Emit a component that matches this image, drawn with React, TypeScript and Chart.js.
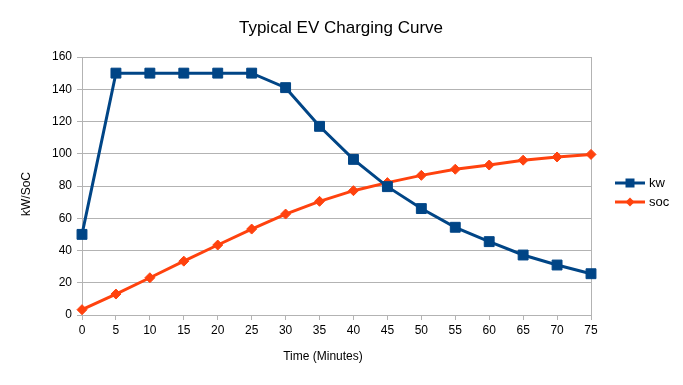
import React, { useEffect, useRef } from "react";
import { Chart, registerables } from "chart.js";

Chart.register(...registerables);

const minutes = ["0", "5", "10", "15", "20", "25", "30", "35", "40", "45", "50", "55", "60", "65", "70", "75"];
const kwValues = [50, 150, 150, 150, 150, 150, 141, 117, 96.5, 79.6, 66, 54.4, 45.5, 37.2, 31, 25.6];
const socValues = [3.3, 13, 23.1, 33.4, 43.4, 53.3, 62.6, 70.5, 77.1, 82.1, 86.6, 90.4, 93, 96, 98, 99.6];
const seriesNames = ["kw", "soc"];
const chartTitle = "Typical EV Charging Curve";
const xTitle = "Time (Minutes)";
const yTitle = "kW/SoC";

const KW_COLOR = "#004586";
const SOC_COLOR = "#ff420e";
const GRID = "#b3b3b3";
const FONT = "'Liberation Sans', Arial, sans-serif";

export default function App() {
  const ref = useRef<HTMLCanvasElement | null>(null);

  useEffect(() => {
    if (!ref.current) return;

    const decor = {
      id: "decor",
      beforeDatasetsDraw(chart: any) {
        const { ctx, chartArea } = chart;
        ctx.save();
        ctx.strokeStyle = GRID;
        ctx.lineWidth = 1;
        ctx.beginPath();
        ctx.moveTo(Math.round(chartArea.right) + 0.5, chartArea.top);
        ctx.lineTo(Math.round(chartArea.right) + 0.5, chartArea.bottom);
        ctx.stroke();
        ctx.restore();
      },
      afterDraw(chart: any) {
        const { ctx } = chart;
        ctx.save();
        ctx.fillStyle = "#000";
        ctx.textAlign = "center";
        ctx.textBaseline = "middle";
        ctx.font = `17px ${FONT}`;
        ctx.fillText(chartTitle, 341, 28);
        ctx.font = `12px ${FONT}`;
        ctx.fillText(xTitle, 323, 357);
        ctx.save();
        ctx.translate(27, 194);
        ctx.rotate(-Math.PI / 2);
        ctx.fillText(yTitle, 0, 0);
        ctx.restore();

        // legend
        const items = [
          { name: seriesNames[0], color: KW_COLOR, style: "rect", r: 7, y: 183 },
          { name: seriesNames[1], color: SOC_COLOR, style: "rectRot", r: 5, y: 202 },
        ];
        items.forEach((it) => {
          ctx.strokeStyle = it.color;
          ctx.lineWidth = 3;
          ctx.beginPath();
          ctx.moveTo(615, it.y);
          ctx.lineTo(645, it.y);
          ctx.stroke();
          ctx.fillStyle = it.color;
          ctx.beginPath();
          if (it.style === "rect") {
            ctx.rect(630 - 4.5, it.y - 4.5, 9, 9);
          } else {
            ctx.moveTo(630, it.y - 4.5);
            ctx.lineTo(634.5, it.y);
            ctx.lineTo(630, it.y + 4.5);
            ctx.lineTo(625.5, it.y);
            ctx.closePath();
          }
          ctx.fill();
          ctx.fillStyle = "#000";
          ctx.textAlign = "left";
          ctx.font = `13px ${FONT}`;
          ctx.fillText(it.name, 649, it.y);
        });
        ctx.restore();
      },
    };

    const chart = new Chart(ref.current, {
      type: "line",
      data: {
        labels: minutes,
        datasets: [
          {
            label: seriesNames[0],
            data: kwValues,
            borderColor: KW_COLOR,
            backgroundColor: KW_COLOR,
            borderWidth: 3,
            pointStyle: "rect",
            pointRadius: 7,
            pointBorderWidth: 1,
            tension: 0,
          },
          {
            label: seriesNames[1],
            data: socValues,
            borderColor: SOC_COLOR,
            backgroundColor: SOC_COLOR,
            borderWidth: 3,
            pointStyle: "rectRot",
            pointRadius: 5,
            pointBorderWidth: 1,
            tension: 0,
          },
        ],
      },
      options: {
        responsive: false,
        animation: false,
        layout: { padding: { top: 57, right: 92, left: 0, bottom: 0 } },
        plugins: {
          legend: { display: false },
          title: { display: false },
          tooltip: { enabled: false },
        },
        scales: {
          x: {
            type: "category",
            grid: { drawOnChartArea: false, drawTicks: true, tickLength: 5, color: GRID },
            border: { color: GRID },
            ticks: {
              color: "#000",
              font: { family: FONT, size: 12 },
              padding: 3,
              maxRotation: 0,
              autoSkip: false,
            },
            afterFit: (s: any) => {
              s.height = 70;
            },
          },
          y: {
            min: 0,
            max: 160,
            grid: { color: GRID, tickLength: 5 },
            border: { color: GRID },
            ticks: {
              stepSize: 20,
              color: "#000",
              font: { family: FONT, size: 12 },
              padding: 5,
            },
            afterFit: (s: any) => {
              s.width = 82;
            },
          },
        },
      },
      plugins: [decor],
    } as any);

    return () => chart.destroy();
  }, []);

  return (
    <div style={{ position: "absolute", left: 0, top: 0, width: 683, height: 385, background: "#fff" }}>
      <canvas ref={ref} width={683} height={385} />
    </div>
  );
}
